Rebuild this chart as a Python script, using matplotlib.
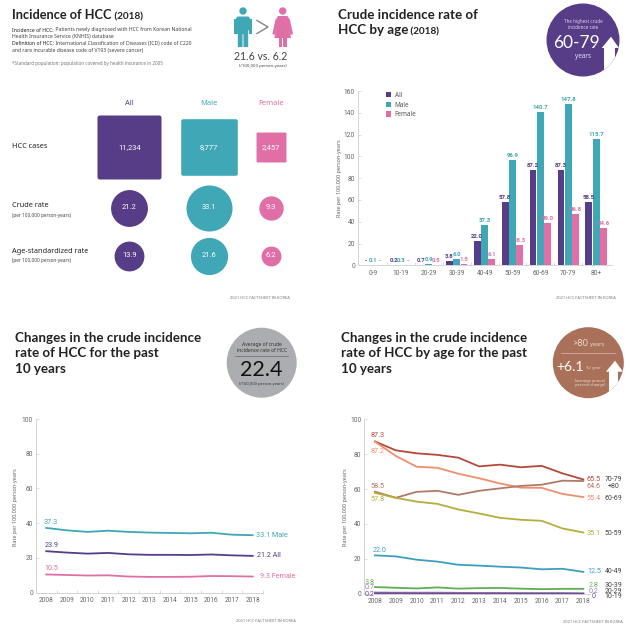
import matplotlib
matplotlib.use('Agg')
import matplotlib.pyplot as plt
from matplotlib.patches import Circle, Polygon, FancyBboxPatch
from matplotlib.path import Path
from matplotlib.ticker import MultipleLocator

W, H = 643, 633
plt.rcParams['font.family'] = ['Noto Sans', 'DejaVu Sans']

PURPLE = '#573D87'
TEAL = '#3FA7B5'
PINK = '#E06FA8'
BROWN = '#A9705A'
GREY = '#ABADB0'
TEXT = '#222222'
AXIS = '#CFCFCF'
TICK = '#666666'
NUM_FONT = 'Roboto'

# panel 1 data
groups = ['All', 'Male', 'Female']
cases = [11234, 8777, 2457]
crude_rate = [21.2, 33.1, 9.3]
asr_rate = [13.9, 21.6, 6.2]

# panel 2 data
age_bands = ['0-9', '10-19', '20-29', '30-39', '40-49', '50-59', '60-69', '70-79', '80+']
age_all = [0, 0.2, 0.7, 3.8, 22.0, 57.8, 87.2, 87.3, 58.5]
age_male = [0.1, 0.3, 0.9, 6.0, 37.3, 96.9, 140.7, 147.8, 115.7]
age_female = [0, 0, 0.5, 1.5, 6.1, 18.3, 39.0, 46.8, 34.6]

# panel 3 data
years = [2008, 2009, 2010, 2011, 2012, 2013, 2014, 2015, 2016, 2017, 2018]
trend_male = [37.3, 35.9, 35.0, 35.7, 35.0, 34.6, 34.4, 34.2, 34.5, 33.4, 33.1]
trend_all = [23.9, 23.1, 22.5, 22.9, 22.1, 21.8, 21.8, 21.7, 22.0, 21.5, 21.2]
trend_female = [10.5, 10.2, 9.9, 10.0, 9.3, 9.1, 9.1, 9.2, 9.6, 9.5, 9.3]

# panel 4 data
t70 = [87.3, 82.2, 80.5, 79.6, 78.0, 73.0, 74.0, 72.5, 73.3, 69.0, 65.5]
t60 = [87.2, 79.0, 72.8, 72.2, 68.8, 66.2, 63.2, 60.8, 60.7, 57.2, 55.4]
t80 = [58.5, 55.0, 58.4, 59.0, 56.7, 59.0, 60.4, 61.8, 62.5, 64.8, 64.6]
t50 = [57.8, 55.0, 52.8, 51.5, 48.3, 46.0, 43.5, 42.4, 41.8, 37.4, 35.1]
t40 = [22.0, 21.4, 19.5, 18.4, 16.6, 16.1, 15.5, 15.0, 14.0, 14.3, 12.5]
t30 = [3.8, 3.4, 3.0, 3.6, 2.9, 3.2, 3.3, 2.9, 2.6, 2.8, 2.8]
t20 = [0.7, 0.6, 0.6, 0.6, 0.5, 0.4, 0.4, 0.3, 0.3, 0.3, 0.2]
t10 = [0.2, 0.2, 0.1, 0.1, 0.1, 0.1, 0.1, 0.1, 0.1, 0.1, 0.0]


def px_axes(left, top, right, bottom):
    return fig.add_axes([left / W, 1 - bottom / H, (right - left) / W, (bottom - top) / H],
                        facecolor='none')


def style_axes(ax):
    ax.spines['top'].set_visible(False)
    ax.spines['right'].set_visible(False)
    ax.spines['left'].set_color(AXIS)
    ax.spines['bottom'].set_color(AXIS)
    ax.spines['left'].set_linewidth(0.6)
    ax.spines['bottom'].set_linewidth(0.6)
    ax.tick_params(axis='y', which='major', direction='in', length=2, width=0.5, color=AXIS,
                   labelsize=4.8, labelcolor=TICK, pad=2)
    ax.tick_params(axis='x', which='major', length=0, labelsize=4.7, labelcolor=TICK, pad=3.2)
    ax.tick_params(axis='x', which='minor', direction='in', length=2, width=0.5, color=AXIS)
    for lab in ax.get_xticklabels() + ax.get_yticklabels():
        lab.set_family(NUM_FONT)


def title(x, y, lines, year=None, size=9.6):
    for i, line in enumerate(lines):
        t = bg.text(x, y + i * 15.4, line, fontsize=size, fontweight='bold', color=TEXT, va='center',
                    family='Lato')
    if year:
        bg.annotate(' ' + year, xy=(1, 0), xycoords=t, va='bottom', fontsize=7.2,
                    fontweight='bold', color=TEXT, family='Lato')


def footer(x, y):
    bg.text(x, y, '2021 HCC FACTSHEET IN KOREA', fontsize=2.9, color='#777777', ha='right', va='center')


def ylabel(x, y):
    bg.text(x, y, 'Rate per 100,000 person-years', fontsize=3.9, color=TICK, rotation=90,
            ha='center', va='center')


def badge_arrow(tip, base_y, head_l, head_r, shaft_l, shaft_r, circle):
    arrow = Polygon([tip, (head_r, base_y), (shaft_r, base_y), (shaft_r, 640), (shaft_l, 640),
                     (shaft_l, base_y), (head_l, base_y)], closed=True, fc='white', ec='none', zorder=3)
    bg.add_patch(arrow)
    arrow.set_clip_path(circle)


fig = plt.figure(figsize=(W / 100, H / 100), dpi=100, facecolor='white')
bg = fig.add_axes([0, 0, 1, 1])
bg.set_xlim(0, W)
bg.set_ylim(H, 0)
bg.axis('off')

# ---- panel 1 : incidence
title(12, 15, ['Incidence of HCC'], '(2018)', size=9.2)
body = [('Incidence of HCC:', ' Patients newly diagnosed with HCC from Korean National', 30),
        ('', 'Health Insurance Service (KNHIS) database', 36.7),
        ('Definition of HCC:', ' International Classification of Diseases (ICD) code of C220', 43.7),
        ('', 'and rare incurable disease code of V193 (severe cancer)', 50.3)]
for head, rest, y in body:
    if head:
        t = bg.text(12, y, head, fontsize=3.65, fontweight='bold', color=TEXT, va='center')
        bg.annotate(rest, xy=(1, 0), xycoords=t, va='bottom', fontsize=3.65, color='#444444')
    else:
        bg.text(12, y, rest, fontsize=3.65, color='#444444', va='center')
bg.text(12, 64, '*Standard population: population covered by health insurance in 2005', fontsize=3.3,
        color='#777777', va='center')

# man icon
bg.add_patch(Circle((243, 11), 3.7, fc=TEAL, ec='none'))
bg.add_patch(FancyBboxPatch((236, 16.5), 14, 14, boxstyle='round,pad=0,rounding_size=2.5', fc=TEAL, ec='none'))
bg.add_patch(Polygon([(234.2, 19), (237.5, 19), (237.5, 34), (234.2, 34)], fc=TEAL, ec='none'))
bg.add_patch(Polygon([(248.5, 19), (251.8, 19), (251.8, 34), (248.5, 34)], fc=TEAL, ec='none'))
bg.add_patch(Polygon([(237.8, 28), (248.2, 28), (248.2, 47), (243.5, 47), (243.4, 34), (242.6, 34),
                      (242.5, 47), (237.8, 47)], fc=TEAL, ec='none'))
# greater-than sign
bg.plot([257, 268, 257], [20.5, 27, 33.5], color='#8A8C8E', lw=1.1, solid_joinstyle='miter')
# woman icon
bg.add_patch(Circle((282.7, 11), 3.7, fc=PINK, ec='none'))
bg.add_patch(Polygon([(278, 16), (287.4, 16), (290, 20), (293, 34), (290.5, 35), (288.4, 26), (291, 38),
                      (274.4, 38), (277, 26), (274.9, 35), (272.4, 34), (275.4, 20)], fc=PINK, ec='none'))
bg.add_patch(Polygon([(278.5, 37), (287, 37), (287, 47), (283.2, 47), (283.2, 38), (282.3, 38), (282.3, 47),
                      (278.5, 47)], fc=PINK, ec='none'))
bg.text(260.5, 56.7, '21.6 vs. 6.2', fontsize=7.6, color='#444444', ha='center', va='center', family='Lato')
bg.text(263, 65.7, '(/100,000 person-years)', fontsize=3.1, color='#444444', ha='center', va='center')

# bubbles, area follows the value
col_x = [129.3, 208.5, 270.7]
row_y = [147.3, 207.5, 255.7]
colors = [PURPLE, TEAL, PINK]
c = 0.07
rounded = Path([(-1 + c, -1), (1 - c, -1), (1, -1), (1, -1 + c), (1, 1 - c), (1, 1), (1 - c, 1),
                (-1 + c, 1), (-1, 1), (-1, 1 - c), (-1, -1 + c), (-1, -1), (-1 + c, -1), (-1 + c, -1)],
               [Path.MOVETO, Path.LINETO, Path.CURVE3, Path.CURVE3, Path.LINETO, Path.CURVE3, Path.CURVE3,
                Path.LINETO, Path.CURVE3, Path.CURVE3, Path.LINETO, Path.CURVE3, Path.CURVE3, Path.CLOSEPOLY])
for x, g, col, n, cr, asr in zip(col_x, groups, colors, cases, crude_rate, asr_rate):
    bg.text(x, 103.7, g, fontsize=5.4, color=col, ha='center', va='center', fontweight='bold')
    bg.scatter([x], [row_y[0]], s=n * 0.189, marker=rounded, color=col, linewidths=0)
    bg.scatter([x], [row_y[1]], s=cr * 33.2, marker='o', color=col, linewidths=0)
    bg.scatter([x], [row_y[2]], s=asr * 33.2, marker='o', color=col, linewidths=0)
    bg.text(x, row_y[0], f'{n:,}', fontsize=5.4, color='white', ha='center', va='center', family=NUM_FONT)
    bg.text(x, row_y[1], f'{cr:.1f}', fontsize=5.4, color='white', ha='center', va='center', family=NUM_FONT)
    bg.text(x, row_y[2], f'{asr:.1f}', fontsize=5.4, color='white', ha='center', va='center', family=NUM_FONT)
bg.text(12, 147, 'HCC cases', fontsize=5.3, fontweight='bold', color=TEXT, va='center')
bg.text(12, 205.7, 'Crude rate', fontsize=5.3, fontweight='bold', color=TEXT, va='center')
bg.text(12, 215, '(per 100,000 person-years)', fontsize=3.4, color='#444444', va='center')
bg.text(12, 251.3, 'Age-standardized rate', fontsize=5.3, fontweight='bold', color=TEXT, va='center')
bg.text(12, 260.3, '(per 100,000 person-years)', fontsize=3.4, color='#444444', va='center')
footer(290, 298)

# ---- panel 2 : rate by age
title(338, 15, ['Crude incidence rate of', 'HCC by age'], '(2018)')
c2 = Circle((583, 40), 36.5, fc=PURPLE, ec='none', zorder=2)
bg.add_patch(c2)
bg.text(583, 24.5, 'The highest crude\nincidence rate', fontsize=3.3, color='#D9D2E6', ha='center', va='center',
        zorder=4, linespacing=1.3)
bg.text(577, 42.5, '60-79', fontsize=12.5, color='white', ha='center', va='center', zorder=4, family='Lato')
bg.text(583, 56.7, 'years', fontsize=4.6, color='#E5E0EE', ha='center', va='center', zorder=4)
badge_arrow((611, 36.7), 48, 601.7, 619, 604, 615, c2)

ax = px_axes(357.7, 91, 612, 265.3)
pos = list(range(len(age_bands)))
step = 0.262
for off, vals, col, name in zip([-step, 0, step], [age_all, age_male, age_female], colors, groups):
    bars = ax.bar([p + off for p in pos], vals, width=0.245, color=col, label=name)
    for p, v in zip(pos, vals):
        ax.annotate(f'{v:.1f}' if v > 0 else '-', xy=(p + off, v), xytext=(0, 1.4), textcoords='offset points',
                    ha='center', va='bottom', fontsize=4.3, color=col, family=NUM_FONT, fontweight='bold')
ax.set_xlim(-0.55, 8.57)
ax.set_ylim(0, 160)
ax.yaxis.set_major_locator(MultipleLocator(20))
ax.set_xticks(pos)
ax.set_xticklabels(age_bands)
ax.set_xticks([p + 0.5 for p in pos[:-1]], minor=True)
style_axes(ax)
ax.legend(loc='upper left', bbox_to_anchor=(0.097, 1.015), frameon=False, fontsize=4.6, handlelength=0.9,
          handleheight=1.0, handletextpad=0.5, labelspacing=0.45, borderpad=0, labelcolor='#555555')
ylabel(340, 178)
footer(615.7, 298)

# ---- panel 3 : trend
title(15, 338, ['Changes in the crude incidence', 'rate of HCC for the past', '10 years'])
bg.add_patch(Circle((261.7, 362.7), 35, fc=GREY, ec='none', zorder=2))
bg.text(261.7, 347.5, 'Average of crude\nincidence rate of HCC', fontsize=3.6, color='#333333', ha='center',
        va='center', zorder=4, linespacing=1.15)
bg.plot([235, 288], [355.7, 355.7], color='#555555', lw=0.4, zorder=4)
bg.text(261.7, 370, '22.4', fontsize=15.5, color='#111111', ha='center', va='center', zorder=4, family='Lato')
bg.text(261.7, 384, '(/100,000 person-years)', fontsize=2.9, color='#333333', ha='center', va='center', zorder=4)

ax = px_axes(35.7, 419, 263, 592.7)
series3 = [(trend_male, TEAL, '33.1 Male', 3), (trend_all, PURPLE, '21.2 All', 4), (trend_female, PINK, '9.3 Female', 7.5)]
for vals, col, end, dx in series3:
    ax.plot(years, vals, color=col, lw=1.3)
    ax.annotate(f'{vals[0]:.1f}', xy=(years[0], vals[0]), xytext=(3.6, 4.2), textcoords='offset points', ha='center',
                va='center', fontsize=5.2, color=col, family=NUM_FONT)
    ax.annotate(end, xy=(years[-1], vals[-1]), xytext=(dx * 0.72, 0), textcoords='offset points', ha='left',
                va='center', fontsize=5.2, color=col, family=NUM_FONT, annotation_clip=False)
ax.set_xlim(2007.49, 2018.47)
ax.set_ylim(0, 100)
ax.yaxis.set_major_locator(MultipleLocator(20))
ax.set_xticks(years)
ax.set_xticks([y + 0.5 for y in years], minor=True)
style_axes(ax)
ylabel(15.7, 506.7)
footer(296, 621)

# ---- panel 4 : trend by age
title(341, 338, ['Changes in the crude incidence', 'rate of HCC by age for the past', '10 years'])
c4 = Circle((588.3, 362.7), 35.5, fc=BROWN, ec='none', zorder=2)
bg.add_patch(c4)
bg.text(588.3, 344, '>80', fontsize=6.6, color='#EBDDD6', ha='right', va='center', zorder=4, family='Lato')
bg.text(589.5, 344.5, 'years', fontsize=4.0, color='#EBDDD6', ha='left', va='center', zorder=4)
bg.plot([561, 615], [353.3, 353.3], color='#E3CFC5', lw=0.4, zorder=4)
bg.text(584, 367, '+6.1', fontsize=10, color='white', ha='right', va='center', zorder=4, family='Lato')
bg.text(585.5, 368, '%/ year', fontsize=3.0, color='#EBDDD6', ha='left', va='center', zorder=4)
bg.text(590, 383, '(average annual\npercent change)', fontsize=2.8, color='#EBDDD6', ha='center', va='center', zorder=4)
badge_arrow((615, 360.7), 371.7, 606, 623, 609, 618, c4)

ax = px_axes(364.3, 419.3, 590, 593.7)
# values, colour, start label offset (px), end label offset (px), name
series4 = [(t70, '#B5483A', (2.5, 5.5), 0, '70-79'),
           (t60, '#EE8F6C', (2.5, -10), -1.5, '60-69'),
           (t80, '#B07A66', (2.5, 5.3), -5, '+80'),
           (t50, '#B5AE3C', (2.5, -7), -1, '50-59'),
           (t40, '#3C9FC0', (4.5, 4.8), 0, '40-49'),
           (t30, '#5FAE52', (-5.5, 4.7), 3.3, '30-39'),
           (t20, '#9C7FB5', (-5.5, 4.5), 2.3, '20-29'),
           (t10, '#6B4C95', (-5.5, -1), -3, '10-19')]
for vals, col, start, end_dy, name in series4:
    ax.plot(years, vals, color=col, lw=1.3, clip_on=False)
    ax.annotate(f'{vals[0]:.1f}', xy=(years[0], vals[0]), xytext=(start[0] * 0.72, start[1] * 0.72),
                textcoords='offset points', ha='center', va='center', fontsize=5.2, color=col, family=NUM_FONT,
                annotation_clip=False)
    end = f'{vals[-1]:.1f}' if vals[-1] > 0 else '0'
    ax.annotate(end, xy=(years[-1], vals[-1]), xytext=(7.7, end_dy * 0.72), textcoords='offset points', ha='center',
                va='center', fontsize=5.2, color=col, family=NUM_FONT, annotation_clip=False)
    ax.annotate(name, xy=(years[-1], vals[-1]), xytext=(21.5, end_dy * 0.72), textcoords='offset points', ha='center',
                va='center', fontsize=5.0, color='#444444', family=NUM_FONT, annotation_clip=False)
ax.set_xlim(2007.49, 2018.32)
ax.set_ylim(0, 100)
ax.yaxis.set_major_locator(MultipleLocator(20))
ax.set_xticks(years)
ax.set_xticks([y + 0.5 for y in years[:-1]], minor=True)
style_axes(ax)
ylabel(345, 507)
footer(622.7, 622)

fig.savefig('out.png', dpi=100)
